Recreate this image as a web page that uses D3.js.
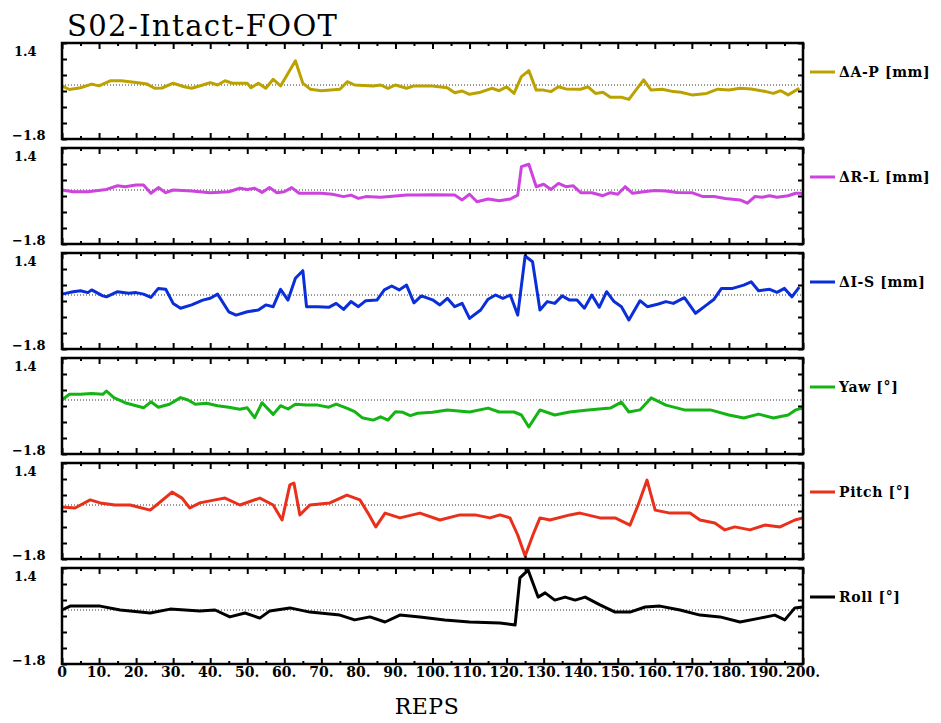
<!DOCTYPE html>
<meta charset="utf-8">
<script src="https://d3js.org/d3.v7.min.js"></script>
<style>
  body { margin: 0; background: #fff; }
  text { fill: #000; }
</style>
<div id="chart"></div>
<script>

// ---- data: [rep, value] ----
var seriesAP = [[0,-0.03],[2,-0.15],[5,-0.09],[8,0.03],[10,-0.03],[13,0.14],[16,0.14],[20,0.08],[23,0.03],[25,-0.11],[27,-0.1],[30,0.06],[33,-0.06],[35,-0.11],[38,0],[40,0.08],[42,0],[44,0.14],[46,0.06],[50,0.06],[51,-0.09],[53,0.06],[55,-0.11],[57,0.19],[59,-0.03],[63,0.81],[65,0.06],[67,-0.14],[70,-0.19],[75,-0.14],[77,0.11],[79,0],[84,-0.03],[86,0],[88,-0.11],[90,0],[93,-0.11],[95,-0.03],[100,-0.03],[104,-0.09],[106,-0.26],[108,-0.2],[110,-0.31],[113,-0.24],[116,-0.11],[118,-0.19],[120,-0.06],[122,-0.28],[124,0.28],[126,0.48],[128,-0.17],[130,-0.17],[132,-0.22],[134,-0.06],[136,-0.13],[140,-0.14],[142,-0.06],[144,-0.28],[146,-0.24],[148,-0.41],[151,-0.41],[153,-0.48],[157,0.17],[159,-0.17],[162,-0.14],[165,-0.22],[167,-0.24],[170,-0.33],[174,-0.28],[177,-0.14],[180,-0.17],[183,-0.11],[186,-0.13],[190,-0.22],[192,-0.28],[194,-0.19],[196,-0.33],[199,-0.11]];

var seriesRL = [[0,0],[3,-0.06],[7,-0.06],[12,0.02],[15,0.14],[17,0.11],[20,0.17],[22,0.17],[24,-0.11],[26,0.08],[28,-0.09],[30,0],[35,-0.03],[40,-0.09],[45,-0.06],[48,0.06],[50,0.02],[52,0.06],[54,-0.08],[56,0.08],[58,-0.09],[60,-0.06],[62,0.08],[64,-0.11],[70,-0.11],[73,-0.14],[76,-0.22],[78,-0.17],[80,-0.28],[82,-0.22],[86,-0.24],[90,-0.2],[93,-0.17],[96,-0.17],[100,-0.16],[106,-0.17],[108,-0.33],[110,-0.14],[112,-0.39],[115,-0.3],[118,-0.36],[121,-0.3],[123,-0.17],[124,0.78],[126,0.86],[128,0.11],[130,0.19],[132,0.02],[134,0.22],[136,0.11],[138,0.14],[140,-0.09],[143,-0.09],[146,-0.19],[148,-0.09],[150,-0.14],[152,0.11],[154,-0.11],[157,-0.06],[160,-0.02],[163,-0.03],[166,-0.08],[170,-0.09],[173,-0.22],[176,-0.22],[179,-0.28],[183,-0.33],[185,-0.44],[187,-0.22],[189,-0.24],[191,-0.19],[193,-0.24],[196,-0.19],[198,-0.11],[200,-0.11]];

var seriesIS = [[0,0.03],[3,0.11],[5,0.14],[7,0.08],[8,0.17],[11,-0.03],[12,-0.06],[15,0.11],[18,0.06],[20,0.08],[22,0.03],[24,-0.08],[26,0.22],[28,0.19],[30,-0.28],[32,-0.44],[35,-0.33],[38,-0.17],[40,-0.11],[42,0.03],[45,-0.56],[47,-0.67],[50,-0.56],[53,-0.5],[55,-0.33],[57,-0.39],[59,0.19],[61,-0.17],[63,0.56],[65,0.81],[66,-0.39],[69,-0.39],[72,-0.41],[74,-0.28],[76,-0.48],[78,-0.22],[80,-0.39],[82,-0.19],[85,-0.17],[87,0.17],[89,0.3],[91,0.17],[93,0.33],[95,-0.26],[97,-0.03],[100,-0.16],[102,-0.33],[104,-0.11],[106,-0.39],[108,-0.28],[110,-0.78],[113,-0.5],[115,-0.14],[117,0],[119,-0.11],[121,0],[123,-0.67],[125,1.3],[127,1.11],[129,-0.5],[131,-0.22],[133,-0.28],[135,-0.03],[137,-0.17],[139,-0.17],[141,-0.44],[143,0],[145,-0.41],[147,0.11],[149,-0.22],[151,-0.39],[153,-0.83],[156,-0.19],[158,-0.39],[161,-0.3],[163,-0.22],[165,-0.28],[168,-0.09],[171,-0.61],[174,-0.33],[176,-0.14],[178,0.22],[181,0.22],[184,0.33],[186,0.44],[188,0.14],[191,0.19],[193,0.09],[195,0.22],[197,-0.06],[199,0.26]];

var seriesYaw = [[0,0],[2,0.19],[5,0.19],[8,0.22],[11,0.19],[12,0.3],[14,0.08],[17,-0.09],[20,-0.19],[22,-0.26],[24,-0.06],[26,-0.24],[29,-0.14],[32,0.08],[34,0],[36,-0.14],[39,-0.11],[42,-0.19],[45,-0.24],[48,-0.31],[50,-0.26],[52,-0.59],[54,-0.09],[57,-0.48],[59,-0.19],[61,-0.3],[63,-0.14],[66,-0.17],[69,-0.17],[72,-0.24],[74,-0.14],[77,-0.28],[79,-0.39],[81,-0.59],[84,-0.67],[86,-0.56],[88,-0.67],[90,-0.39],[92,-0.41],[94,-0.52],[96,-0.44],[100,-0.41],[104,-0.33],[110,-0.4],[115,-0.27],[118,-0.4],[122,-0.4],[124,-0.5],[126,-0.9],[129,-0.33],[133,-0.5],[137,-0.4],[142,-0.33],[148,-0.27],[151,-0.07],[153,-0.4],[156,-0.33],[159,0.07],[163,-0.17],[168,-0.33],[175,-0.33],[180,-0.5],[184,-0.6],[188,-0.47],[192,-0.6],[196,-0.5],[198,-0.33],[200,-0.27]];

var seriesPitch = [[0,-0.07],[3.5,-0.1],[7.6,0.17],[10.3,0.07],[14.3,0],[18.4,0],[23.8,-0.17],[26.5,0.1],[29.7,0.43],[32.4,0.23],[34.5,-0.1],[37.2,0.07],[41.3,0.17],[44,0.23],[48,0],[53.4,0.23],[57,0],[59.4,-0.5],[61.5,0.67],[62.6,0.73],[64.2,-0.33],[66.9,0],[72.3,0.07],[76.9,0.33],[80.4,0.17],[82.6,-0.27],[84.7,-0.73],[87.2,-0.27],[91.2,-0.43],[96.6,-0.27],[102,-0.5],[107.4,-0.33],[111.5,-0.33],[115.5,-0.43],[118.2,-0.33],[120.9,-0.43],[123,-1.0],[125,-1.7],[127.1,-1.0],[129,-0.43],[131.7,-0.5],[137.1,-0.33],[139.8,-0.27],[145.2,-0.43],[149.3,-0.43],[153.3,-0.67],[155.5,0],[157.9,0.83],[160.1,-0.17],[164.1,-0.27],[169.5,-0.27],[172.2,-0.5],[176.2,-0.6],[178.9,-0.83],[181.6,-0.73],[185.7,-0.83],[189.7,-0.67],[193.8,-0.73],[197.8,-0.5],[200,-0.43]];

var seriesRoll = [[0,0],[2.2,0.13],[10.3,0.13],[15.7,0],[23.8,-0.1],[29.2,0.03],[37.2,-0.03],[41.3,0],[45.3,-0.23],[49.4,-0.1],[53.4,-0.27],[56.1,-0.03],[61.5,0.07],[66.9,-0.07],[75,-0.17],[79,-0.33],[83.1,-0.23],[87.2,-0.4],[91.2,-0.17],[96.6,-0.23],[103.3,-0.33],[110,-0.4],[118.2,-0.43],[122.3,-0.5],[123.6,1.07],[125.8,1.33],[128.5,0.43],[130.4,0.57],[133,0.33],[135.8,0.43],[138.5,0.33],[141.2,0.43],[145.2,0.17],[149.3,-0.07],[153.3,-0.07],[157.4,0.1],[161.4,0.13],[166.8,0],[172.2,-0.17],[177.6,-0.23],[183,-0.4],[188.4,-0.27],[192.4,-0.17],[195.1,-0.33],[197.8,0.07],[200,0.1]];

var panelNames  = ["\u0394A-P [mm]", "\u0394R-L [mm]", "\u0394I-S [mm]", "Yaw [\u00b0]", "Pitch [\u00b0]", "Roll [\u00b0]"];
var panelColors = ["#bca200", "#cc44dd", "#0a2ed8", "#14b414", "#e8301a", "#000000"];
var panelData   = [seriesAP, seriesRL, seriesIS, seriesYaw, seriesPitch, seriesRoll];

var yDomain = [-1.8, 1.4];
var yTickLabels = ["\u22121.8", "1.4"];
var xTickLabels = ["0","10.","20.","30.","40.","50.","60.","70.","80.","90.","100.","110.","120.","130.","140.","150.","160.","170.","180.","190.","200."];

// ---- layout ----
var W = 941, H = 723;
var left = 62, right = 803;
var top0 = 43, step = 105, ph = 96;

var svg = d3.select("#chart").append("svg")
    .attr("width", W)
    .attr("height", H);

var x = d3.scaleLinear().domain([0, 200]).range([left, right]);

var labelFont = "'DejaVu Serif', serif";

// title
svg.append("text")
    .attr("x", 67)
    .attr("y", 36)
    .style("font-family", labelFont)
    .style("font-size", "29px")
    .style("letter-spacing", "1.4px")
    .text("S02-Intact-FOOT");

var line = d3.line();

panelData.forEach(function(data, i) {
  var top = top0 + i * step;
  var y = d3.scaleLinear().domain(yDomain).range([top + ph, top]);
  var g = svg.append("g");

  // zero reference
  g.append("line")
      .attr("x1", left).attr("x2", right)
      .attr("y1", y(0)).attr("y2", y(0))
      .attr("stroke", "#333")
      .attr("stroke-width", 1)
      .attr("stroke-dasharray", "1,2");

  // data line
  g.append("path")
      .datum(data)
      .attr("fill", "none")
      .attr("stroke", panelColors[i])
      .attr("stroke-width", 3)
      .attr("stroke-linejoin", "round")
      .attr("d", line.x(function(d) { return x(d[0]); }).y(function(d) { return y(d[1]); }));

  // ticks (inward) on all four sides
  var majorX = d3.range(0, 201, 10), minorX = d3.range(5, 200, 10);
  var yTicks = d3.range(7).map(function(k) { return yDomain[0] + k * (yDomain[1] - yDomain[0]) / 6; });

  function addAxis(axis, tx, ty) {
    var a = g.append("g").attr("transform", "translate(" + tx + "," + ty + ")").call(axis);
    a.select(".domain").remove();
    a.selectAll(".tick line").attr("stroke", "#000").attr("stroke-width", 2);
    a.selectAll(".tick text").remove();
  }
  addAxis(d3.axisBottom(x).tickValues(majorX).tickSize(-6), 0, top + ph);
  addAxis(d3.axisBottom(x).tickValues(minorX).tickSize(-3), 0, top + ph);
  addAxis(d3.axisTop(x).tickValues(majorX).tickSize(-6), 0, top);
  addAxis(d3.axisTop(x).tickValues(minorX).tickSize(-3), 0, top);
  addAxis(d3.axisLeft(y).tickValues(yTicks).tickSize(-5), left, 0);
  addAxis(d3.axisRight(y).tickValues(yTicks).tickSize(-5), right, 0);

  // frame
  g.append("rect")
      .attr("x", left).attr("y", top)
      .attr("width", right - left).attr("height", ph)
      .attr("fill", "none")
      .attr("stroke", "#000")
      .attr("stroke-width", 2.5);

  // y labels
  g.append("text")
      .attr("x", 14).attr("y", top + 13)
      .style("font-family", labelFont).style("font-weight", "bold").style("font-size", "13px")
      .text(yTickLabels[1]);
  g.append("text")
      .attr("x", 12).attr("y", top + ph + 1)
      .style("font-family", labelFont).style("font-weight", "bold").style("font-size", "13px")
      .text(yTickLabels[0]);

  // legend
  var ly = top + 29;
  g.append("line")
      .attr("x1", 810).attr("x2", 835)
      .attr("y1", ly).attr("y2", ly)
      .attr("stroke", panelColors[i])
      .attr("stroke-width", 3);
  g.append("text")
      .attr("x", 839).attr("y", ly + 5)
      .style("font-family", labelFont).style("font-weight", "bold").style("font-size", "14px")
      .style("letter-spacing", "0.6px")
      .text(panelNames[i]);
});

// x tick labels under the last panel
var bottom = top0 + 5 * step + ph;
svg.append("g").selectAll("text")
  .data(xTickLabels)
  .enter().append("text")
    .attr("x", function(d, k) { return x(k * 10); })
    .attr("y", bottom + 13)
    .attr("text-anchor", "middle")
    .style("font-family", labelFont).style("font-weight", "bold").style("font-size", "14px")
    .text(function(d) { return d; });

svg.append("text")
    .attr("x", 427)
    .attr("y", 714)
    .attr("text-anchor", "middle")
    .style("font-family", labelFont)
    .style("font-size", "22px")
    .style("letter-spacing", "0.5px")
    .text("REPS");

</script>
